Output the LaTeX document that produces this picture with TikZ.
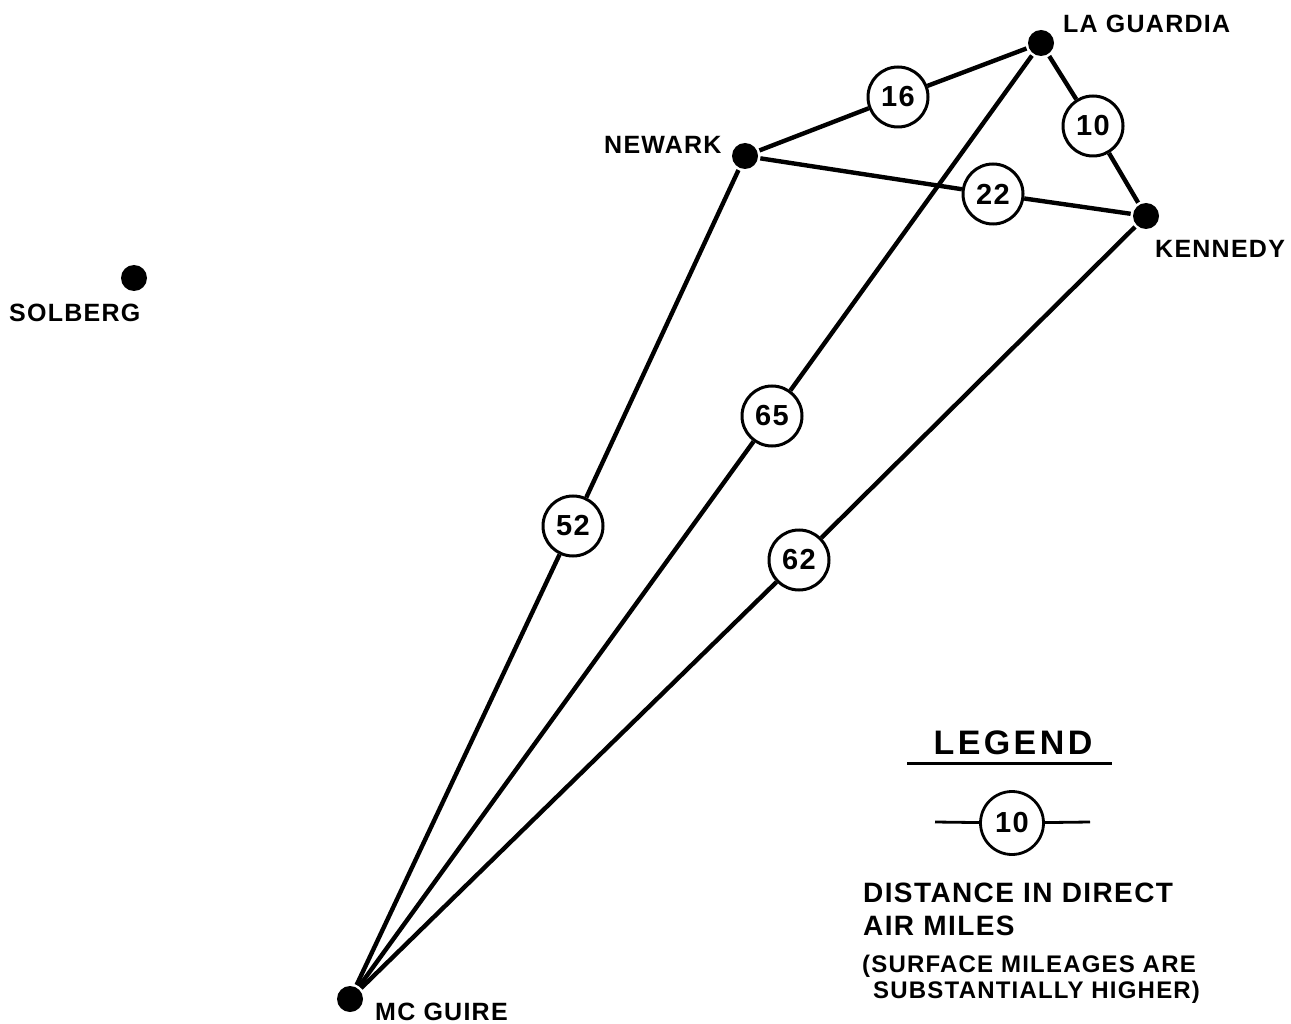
\documentclass[tikz,border=0pt]{standalone}
\usepackage{fontspec}
\setmainfont{Liberation Sans}[LetterSpace=5]
\begin{document}
\begin{tikzpicture}[x=1pt,y=-1pt,
  city/.style={circle, fill=black, minimum size=26pt, inner sep=0pt, outer sep=2.5pt},
  dist/.style={circle, draw, line width=3pt, fill=white, minimum size=60pt, inner sep=0pt,
               font=\fontsize{29}{29}\selectfont\bfseries},
  road/.style={line width=4.4pt},
  lbl/.style={inner sep=0pt, anchor=base west, font=\fontsize{25}{25}\selectfont\bfseries},
  legtxt/.style={inner sep=0pt, anchor=base west, font=\fontsize{28}{28}\selectfont\bfseries},
  legsmall/.style={inner sep=0pt, anchor=base west, font=\fontsize{24}{24}\selectfont\bfseries}]
\useasboundingbox[fill=white] (0,0) rectangle (1291,1024);

% cities
\node[city] (lg) at (1041,43) {};
\node[city] (nw) at (745,156) {};
\node[city] (ke) at (1146,216) {};
\node[city] (so) at (134,278) {};
\node[city] (mc) at (350,999) {};

% city labels
\node[lbl] (lglbl) at (1063,33) {LA GUARDIA};
\node[lbl] (nwlbl) at (604,154) {NEWARK};
\node[lbl] (kelbl) at (1155,258) {KENNEDY};
\node[lbl] (solbl) at (9,322) {SOLBERG};
\node[lbl] (mclbl) at (375,1020) {MC GUIRE};

% distance markers
\node[dist] (d16) at (898,97) {16};
\node[dist] (d10) at (1093,126) {10};
\node[dist] (d22) at (993,194) {22};
\node[dist] (d65) at (772,416) {65};
\node[dist] (d52) at (573,526) {52};
\node[dist] (d62) at (799,560) {62};

% connectors
\draw[road] (nw) -- (d16) -- (lg);
\draw[road] (lg) -- (d10) -- (ke);
\draw[road] (nw) -- (d22) -- (ke);
\draw[road] (mc) -- (d65) -- (lg);
\draw[road] (mc) -- (d52) -- (nw);
\draw[road] (mc) -- (d62) -- (ke);

% legend
\node[inner sep=0pt, anchor=base, font=\fontsize{34}{34}\selectfont\bfseries\addfontfeatures{LetterSpace=10}] (leg) at (1013,754) {LEGEND};
\draw[line width=3pt] (907,763) -- (1112,763);
\node[dist, minimum size=63pt, line width=2.8pt] (lc) at (1012,823) {10};
\coordinate (la) at (935,822);
\coordinate (lb) at (1090,822);
\draw[line width=2.8pt] (la) -- (lc) -- (lb);
\node[legtxt] (t1) at (863,902) {DISTANCE IN DIRECT};
\node[legtxt] (t2) at (863,935) {AIR MILES};
\node[legsmall] (t3) at (862,972) {(SURFACE MILEAGES ARE};
\node[legsmall] (t4) at (873,998) {SUBSTANTIALLY HIGHER)};
\end{tikzpicture}
\end{document}
